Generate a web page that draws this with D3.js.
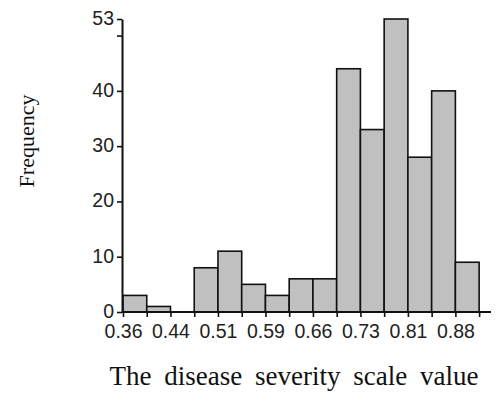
<!DOCTYPE html>
<html>
<head>
<meta charset="utf-8">
<script src="https://cdn.jsdelivr.net/npm/d3@7"></script>
<style>
  body { margin: 0; background: #fff; }
  svg { display: block; }
</style>
</head>
<body>
<svg width="496" height="403"></svg>
<script>
// histogram counts, one per bin (15 bins)
const counts = [3, 1, 0, 8, 11, 5, 3, 6, 6, 44, 33, 53, 28, 40, 9];
// labels sit on every second bin edge
const edgeLabels = ["0.36", "0.44", "0.51", "0.59", "0.66", "0.73", "0.81", "0.88"];
const yTicks = [0, 10, 20, 30, 40, 50, 53];
const yLabelled = [0, 10, 20, 30, 40, 53];

const svg = d3.select("svg");

const xScale = d3.scaleLinear().domain([0, 15.5]).range([123, 491]);
const yScale = d3.scaleLinear().domain([0, 53]).range([312, 19]);

/*bars*/
svg.append("g")
  .selectAll("rect")
  .data(counts)
  .join("rect")
  .attr("x", (d, i) => xScale(i))
  .attr("y", d => yScale(d))
  .attr("width", xScale(1) - xScale(0))
  .attr("height", d => yScale(0) - yScale(d))
  .attr("fill", "#c0c0c0")
  .attr("stroke", "#111")
  .attr("stroke-width", 1.6);

/*x axis - a tick on each bin edge, label on every other one*/
const xAxis = d3.axisBottom(xScale)
  .tickValues(d3.range(0, 16))
  .tickSize(5)
  .tickSizeOuter(0)
  .tickFormat(i => i % 2 === 0 && edgeLabels[i / 2] ? edgeLabels[i / 2] : "");

const gx = svg.append("g")
  .attr("transform", `translate(0, ${yScale(0)})`)
  .call(xAxis);

gx.select(".domain").attr("stroke", "#111").attr("stroke-width", 2)
  .attr("d", `M${xScale(0) - 1},0H${xScale(15.5)}`);
gx.selectAll(".tick line").attr("stroke", "#111").attr("stroke-width", 1.6);
gx.selectAll(".tick text")
  .attr("dy", "0.95em")
  .attr("y", 7)
  .style("font-family", "'Liberation Sans', Arial, sans-serif")
  .style("font-size", "19.5px")
  .attr("fill", "#222");

/*y axis*/
const yAxis = d3.axisLeft(yScale)
  .tickValues(yTicks)
  .tickSize(5)
  .tickSizeOuter(0)
  .tickFormat(d => yLabelled.includes(d) ? d : "");

const gy = svg.append("g")
  .attr("transform", `translate(${xScale(0) - 1}, 0)`)
  .call(yAxis);

gy.select(".domain").attr("stroke", "#111").attr("stroke-width", 2);
gy.selectAll(".tick line").attr("stroke", "#111").attr("stroke-width", 1.6);
gy.selectAll(".tick text")
  .attr("x", -8)
  .attr("dy", "0.28em")
  .style("font-family", "'Liberation Sans', Arial, sans-serif")
  .style("font-size", "19.5px")
  .attr("fill", "#222");

/*axis titles*/
svg.append("text")
  .attr("transform", "translate(34, 141) rotate(-90)")
  .attr("text-anchor", "middle")
  .style("font-family", "'Liberation Serif', 'Times New Roman', serif")
  .style("font-size", "22px")
  .attr("fill", "#111")
  .text("Frequency");

svg.append("text")
  .attr("x", 294)
  .attr("y", 385)
  .attr("text-anchor", "middle")
  .style("font-family", "'Liberation Serif', 'Times New Roman', serif")
  .style("font-size", "27px")
  .style("word-spacing", "6px")
  .attr("fill", "#111")
  .text("The disease severity scale value");
</script>
</body>
</html>
